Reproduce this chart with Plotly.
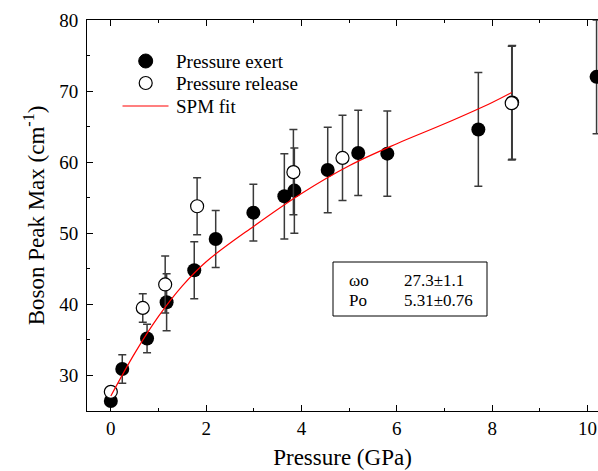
import plotly.graph_objects as go

# Pressure exert (filled)
exert_p = [0.0, 0.24, 0.76, 1.17, 1.75, 2.2, 2.99, 3.64, 3.85, 4.55, 5.19, 5.80, 7.71, 8.42, 10.19]
exert_w = [26.4, 30.9, 35.2, 40.3, 44.8, 49.2, 52.9, 55.2, 56.0, 58.9, 61.3, 61.2, 64.6, 68.4, 72.0]
exert_err = [0.0, 2, 2, 4, 4, 4, 4, 6, 6, 6, 6, 6, 8, 8, 8]

# Pressure release (open)
rel_p = [0.0, 0.67, 1.14, 1.81, 3.83, 4.86, 8.41]
rel_w = [27.7, 39.5, 42.8, 53.8, 58.6, 60.6, 68.3]
rel_err = [0.5, 2, 4, 4, 6, 6, 8]

# SPM fit curve
fit_p = [0, 0.5, 1, 1.5, 2, 3, 4, 5, 6, 7, 8, 8.41]
fit_w = [27.1, 33.1, 38.3, 42.6, 46.0, 51.0, 55.6, 59.5, 62.6, 65.4, 68.4, 69.8]

legend_labels = ["Pressure exert", "Pressure release", "SPM fit"]
fit_params = [("ωo", "27.3±1.1"), ("Po", "5.31±0.76")]

FONT = '"Liberation Serif", "Times New Roman", Times, serif'
L, T, W, H = 87, 20, 511, 391


def px(x):
    return (x - L) / W


def py(y):
    return 1 - (y - T) / H


fig = go.Figure()
fig.add_trace(go.Scatter(
    x=exert_p, y=exert_w, mode="markers", name=legend_labels[0],
    marker=dict(symbol="circle", size=14, color="black"),
    error_y=dict(type="data", array=exert_err, color="#3a3a3a", thickness=1.5, width=4),
    cliponaxis=False, showlegend=False))
fig.add_trace(go.Scatter(
    x=rel_p, y=rel_w, mode="markers", name=legend_labels[1],
    marker=dict(symbol="circle", size=13, color="white", line=dict(color="black", width=1.2)),
    error_y=dict(type="data", array=rel_err, color="#3a3a3a", thickness=1.5, width=4),
    cliponaxis=False, showlegend=False))
fig.add_trace(go.Scatter(
    x=fit_p, y=fit_w, mode="lines", name=legend_labels[2],
    line=dict(color="red", width=1.2, shape="spline", smoothing=1.0), showlegend=False))

# manual legend
leg_rows = [61, 83, 106]
fig.add_shape(type="circle", xref="paper", yref="paper", xsizemode="pixel", ysizemode="pixel",
              xanchor=px(145.7), yanchor=py(leg_rows[0]), x0=-7, x1=7, y0=-7, y1=7,
              fillcolor="black", line=dict(color="black", width=1))
fig.add_shape(type="circle", xref="paper", yref="paper", xsizemode="pixel", ysizemode="pixel",
              xanchor=px(145.7), yanchor=py(leg_rows[1]), x0=-6.5, x1=6.5, y0=-6.5, y1=6.5,
              fillcolor="white", line=dict(color="black", width=1.2))
fig.add_shape(type="line", xref="paper", yref="paper",
              x0=px(122.5), x1=px(168.5), y0=py(leg_rows[2]), y1=py(leg_rows[2]),
              line=dict(color="red", width=1.2))
for lab, ry in zip(legend_labels, leg_rows):
    fig.add_annotation(xref="paper", yref="paper", x=px(174), y=py(ry), text=lab,
                       showarrow=False, xanchor="left", yanchor="middle",
                       font=dict(family=FONT, size=19, color="black"))

# parameter box
fig.add_shape(type="rect", xref="paper", yref="paper",
              x0=px(333), x1=px(487), y0=py(316), y1=py(262),
              line=dict(color="black", width=1), fillcolor="white", layer="below")
for (lab, val), ry in zip(fit_params, [280, 300]):
    fig.add_annotation(xref="paper", yref="paper", x=px(347), y=py(ry),
                       text=lab, showarrow=False, xanchor="left", yanchor="middle",
                       font=dict(family=FONT, size=17, color="black"))
    fig.add_annotation(xref="paper", yref="paper", x=px(402), y=py(ry),
                       text=val, showarrow=False, xanchor="left", yanchor="middle",
                       font=dict(family=FONT, size=17, color="black"))

fig.update_layout(
    width=598, height=471,
    margin=dict(l=L, r=0, t=T, b=60),
    plot_bgcolor="white", paper_bgcolor="white",
    font=dict(family=FONT, size=18, color="black"),
    showlegend=False,
    xaxis=dict(range=[-0.5, 10.22], dtick=2, tick0=0, ticks="inside", ticklen=6,
               tickcolor="black", showline=True, linecolor="black", linewidth=1,
               mirror="ticks", showgrid=False, zeroline=False,
               minor=dict(dtick=1, ticks="inside", ticklen=3, tickcolor="black"),
               title=dict(text="Pressure (GPa)", font=dict(family=FONT, size=23), standoff=11),
               tickfont=dict(family=FONT, size=19)),
    yaxis=dict(range=[25, 80], dtick=10, tick0=30, ticks="inside", ticklen=6,
               tickcolor="black", showline=True, linecolor="black", linewidth=1,
               mirror=False, showgrid=False, zeroline=False, ticklabelstandoff=4,
               minor=dict(dtick=5, ticks="inside", ticklen=3, tickcolor="black"),
               title=dict(text="Boson Peak Max (cm<sup>-1</sup>)", font=dict(family=FONT, size=23), standoff=8),
               tickfont=dict(family=FONT, size=19)),
)

fig.write_html("out.html")
